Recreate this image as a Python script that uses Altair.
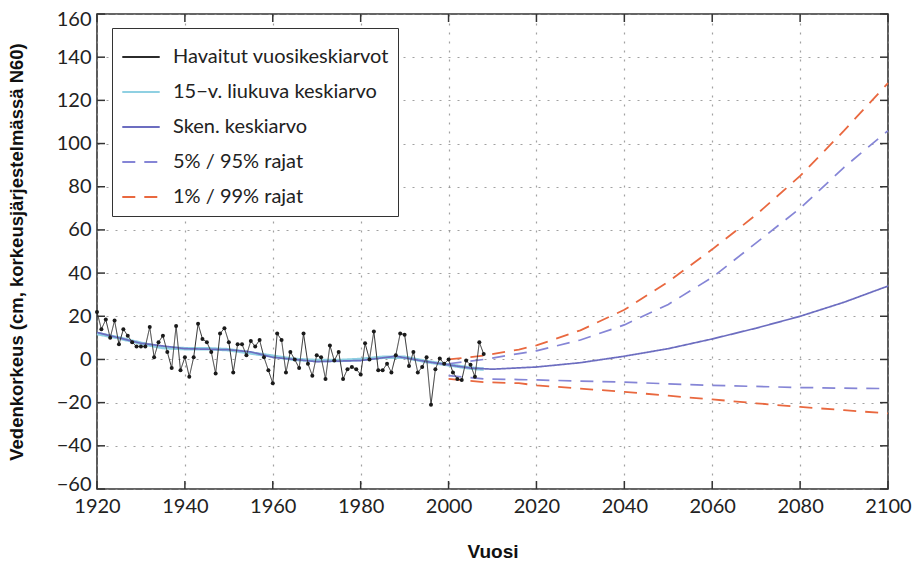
import altair as alt
import pandas as pd

# ---------------- data ----------------
obs_start = 1920
obs_values = [22, 14, 18.5, 10, 18, 7, 14, 11, 8, 6, 6, 6, 15, 1, 8, 11, 3.5, -4, 15.5, -5,
              1, -8, 1, 16.5, 9.5, 8, 3.5, -6.5, 12, 14.5, 8, -6, 7, 7, 2, 8.5, 6, 9, 1, -5,
              -11, 12,
              9, -6, 3.5, 0, -4, 12, -2, -7.5, 2, 1, -9, 6.5, -0.5, 3.5, -9, -4.5, -3.5, -4.5,
              -7, 7.5, 0, 13, -5, -5, -2, -6, 2, 12, 11.5, -3, 3.5, -6, -3.5, 1, -21, -4.5,
              0.5, -2, 0, -6, -9, -9.5, -0.5, -2.5, -8, 8, 2.5]
obs_years = list(range(obs_start, obs_start + len(obs_values)))

ma_years = [1920, 1925, 1930, 1935, 1940, 1945, 1950, 1955, 1960, 1965, 1970, 1975, 1980,
            1985, 1990, 1995, 2000, 2005, 2008]
ma_values = [12, 10, 7.5, 5.5, 5, 5, 4.5, 3, 1.5, 0, -0.5, -0.5, 0, 1, 1, -1, -2.5, -4, -4.5]

mean_years = [1920, 1930, 1940, 1950, 1955, 1960, 1965, 1970, 1980, 1988, 1995, 2000, 2005,
              2010, 2020, 2030, 2040, 2050, 2060, 2070, 2080, 2090, 2100]
mean_values = [12.5, 7.5, 5, 4.5, 3.5, 1, 0, -1, -0.5, 1.5, -1, -2.5, -4,
               -4.5, -3.5, -1.5, 1.5, 5, 9.5, 14.5, 20, 26.5, 34]

band_years = [2000, 2008, 2016, 2020, 2030, 2040, 2050, 2060, 2070, 2080, 2090, 2100]
p95_values = [-2, 0, 2.7, 4, 9, 16, 25.5, 38, 54, 70, 89, 106]
p05_values = [-7.5, -9, -9.3, -9.5, -10, -10.5, -11.3, -12, -12.5, -13, -13.3, -13.5]
p99_values = [0, 1.8, 4.6, 6.5, 13.5, 23, 36, 51, 67, 85, 106, 128]
p01_values = [-9, -10.5, -11, -12, -13.5, -15, -16.8, -18.5, -20.3, -22, -23.5, -25]

series_names = ["Havaitut vuosikeskiarvot", "15\u2212v. liukuva keskiarvo", "Sken. keskiarvo",
                "5% / 95% rajat", "1% / 99% rajat"]
series_colors = ["#2b2b2b", "#8fd0e2", "#6c6dc0", "#8585d6", "#e9683f"]
series_dash = [[1, 0], [1, 0], [1, 0], [13, 9], [13, 9]]

x_ticks = list(range(1920, 2101, 20))
y_ticks = list(range(-60, 161, 20))

# ---------------- tables ----------------
def frame(years, values, series, line_id):
    return pd.DataFrame({"year": years, "value": values, "series": series, "line": line_id})

ma_df = frame(ma_years, ma_values, series_names[1], "ma")
p99_df = pd.concat([frame(band_years, p99_values, series_names[4], "p99"),
                    frame(band_years, p01_values, series_names[4], "p01")])
p95_df = pd.concat([frame(band_years, p95_values, series_names[3], "p95"),
                    frame(band_years, p05_values, series_names[3], "p05")])
mean_df = frame(mean_years, mean_values, series_names[2], "mean")
obs_df = frame(obs_years, obs_values, series_names[0], "obs")

W, H = 791, 475
FONT = "Lato"

xs = alt.Scale(domain=[1920, 2100], nice=False, zero=False)
ys = alt.Scale(domain=[-60, 160], nice=False, zero=False)

x_axis = alt.Axis(values=x_ticks, format="d", title="Vuosi", labelFontSize=20, labelFont=FONT,
                  labelPadding=7, labelColor="#222", ticks=False, domain=False, labelFlush=False,
                  titleFont="Liberation Sans", titleFontSize=19, titleFontWeight="bold",
                  titleColor="#111", titleY=62, titleBaseline="middle")
y_axis = alt.Axis(values=y_ticks, format="d", title="Vedenkorkeus (cm, korkeusj\u00e4rjestelm\u00e4ss\u00e4 N60)",
                  labelFontSize=20, labelFont=FONT, labelPadding=6, labelColor="#222",
                  ticks=False, domain=False, labelFlush=True, labelFlushOffset=5,
                  titleFont="Liberation Sans", titleFontSize=18.5,
                  titleFontWeight="bold", titleColor="#111", titleX=-71, titleY=H / 2,
                  titleAngle=270, titleAlign="center", titleBaseline="bottom")

color_enc = alt.Color("series:N", scale=alt.Scale(domain=series_names, range=series_colors),
                      legend=alt.Legend(title=None))
dash_enc = alt.StrokeDash("series:N", scale=alt.Scale(domain=series_names, range=series_dash),
                          legend=alt.Legend(title=None))

def line_layer(df, width):
    return alt.Chart(df).mark_line(strokeWidth=width).encode(
        x=alt.X("year:Q", scale=xs, axis=x_axis),
        y=alt.Y("value:Q", scale=ys, axis=y_axis),
        color=color_enc, strokeDash=dash_enc,
        detail="line:N",
    )

ma_layer = line_layer(ma_df, 3.5)
p99_layer = line_layer(p99_df, 1.8)
p95_layer = line_layer(p95_df, 1.7)
mean_layer = line_layer(mean_df, 1.7)
obs_line = line_layer(obs_df, 1.0)
obs_pts = alt.Chart(obs_df).mark_circle(size=16, color="#1a1a1a", opacity=1).encode(
    x=alt.X("year:Q", scale=xs), y=alt.Y("value:Q", scale=ys))

xt = pd.DataFrame({"t": x_ticks})
yt = pd.DataFrame({"t": y_ticks})
tick_style = dict(color="#333", strokeWidth=1.5)
tl = 8
ticks = [
    alt.Chart(xt).mark_rule(**tick_style).encode(x=alt.X("t:Q", scale=xs), y=alt.value(H), y2=alt.value(H - tl)),
    alt.Chart(xt).mark_rule(**tick_style).encode(x=alt.X("t:Q", scale=xs), y=alt.value(0), y2=alt.value(tl)),
    alt.Chart(yt).mark_rule(**tick_style).encode(y=alt.Y("t:Q", scale=ys), x=alt.value(0), x2=alt.value(tl)),
    alt.Chart(yt).mark_rule(**tick_style).encode(y=alt.Y("t:Q", scale=ys), x=alt.value(W), x2=alt.value(W - tl)),
]

chart = alt.layer(ma_layer, p99_layer, p95_layer, mean_layer, obs_line, obs_pts, *ticks).properties(
    width=W, height=H,
    autosize=alt.AutoSizeParams(type="none"),
    padding={"left": 97, "top": 14, "right": 24, "bottom": 73},
    background="white",
).configure_view(
    stroke="#333", strokeWidth=1.6
).configure_axis(
    grid=True, gridDash=[2, 7], gridColor="#8a8a8a", gridWidth=1.2, gridOpacity=0.8
).configure_legend(
    orient="none", legendX=15, legendY=14, fillColor="white", strokeColor="#333",
    padding=9, symbolType="stroke", symbolSize=1400, labelFont=FONT, labelFontSize=20,
    labelColor="#222", labelOffset=12, rowPadding=5, symbolStrokeWidth=2, labelLimit=400,
    cornerRadius=0
)

chart.save("out.html", embed_options={"renderer": "svg", "actions": False})
